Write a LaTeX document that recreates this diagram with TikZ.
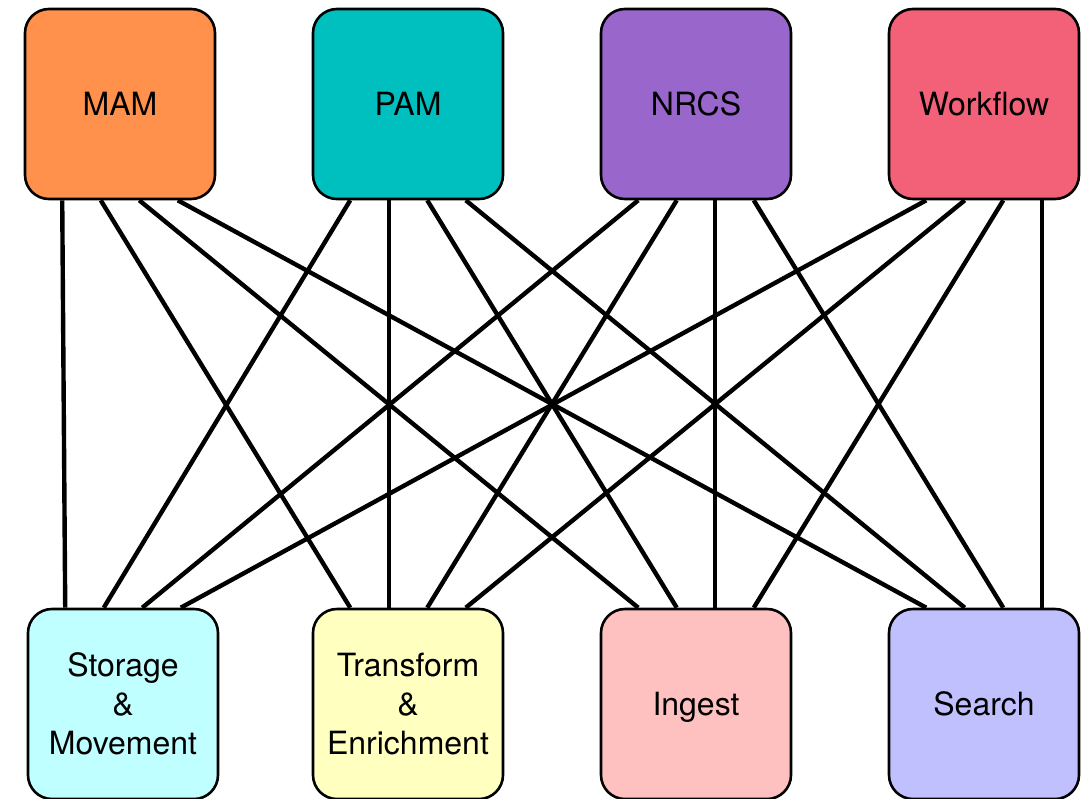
\documentclass[tikz,border=0pt]{standalone}
\usepackage{fontspec}
\setmainfont{TeX Gyre Heros}
\usetikzlibrary{calc,backgrounds}
\definecolor{mamfill}{HTML}{FF914D}
\definecolor{pamfill}{HTML}{00BFBF}
\definecolor{nrcsfill}{HTML}{9966CC}
\definecolor{wffill}{HTML}{F26178}
\definecolor{storfill}{HTML}{C0FFFF}
\definecolor{transfill}{HTML}{FFFFC0}
\definecolor{ingfill}{HTML}{FFC0C0}
\definecolor{srchfill}{HTML}{C0C0FF}
\begin{document}
\begin{tikzpicture}[x=1pt,y=-1pt,
  box/.style={draw=black, line width=2.6pt, rounded corners=24pt,
    minimum width=190pt, minimum height=190pt, inner sep=0pt,
    align=center, font=\fontsize{32}{39}\selectfont},
  link/.style={draw=black, line width=4.4pt}]
\useasboundingbox (0,0) rectangle (1089,798);
% upper row
\node[box, fill=mamfill]  (mam)  at (120,104) {MAM};
\node[box, fill=pamfill]  (pam)  at (408,104) {PAM};
\node[box, fill=nrcsfill] (nrcs) at (696,104) {NRCS};
\node[box, fill=wffill]   (wf)   at (984,104) {Workflow};
% lower row
\node[box, fill=storfill]  (stor)  at (123,704) {Storage\\\&\\Movement};
\node[box, fill=transfill] (trans) at (408,704) {Transform\\\&\\Enrichment};
\node[box, fill=ingfill, text depth=0pt] (ing) at (696,704) {Ingest};
\node[box, fill=srchfill]  (srch)  at (984,704) {Search};
% every upper box linked to every lower box
\begin{scope}[on background layer]
\foreach \t [count=\i, evaluate=\i as \ft using 0.2*\i] in {mam,pam,nrcs,wf} {
  \foreach \b [count=\j, evaluate=\j as \fb using 0.2*\j] in {stor,trans,ing,srch} {
    \draw[link] ($(\t.south west)!\fb!(\t.south east)$) -- ($(\b.north west)!\ft!(\b.north east)$);
  }
}
\end{scope}
\end{tikzpicture}
\end{document}
